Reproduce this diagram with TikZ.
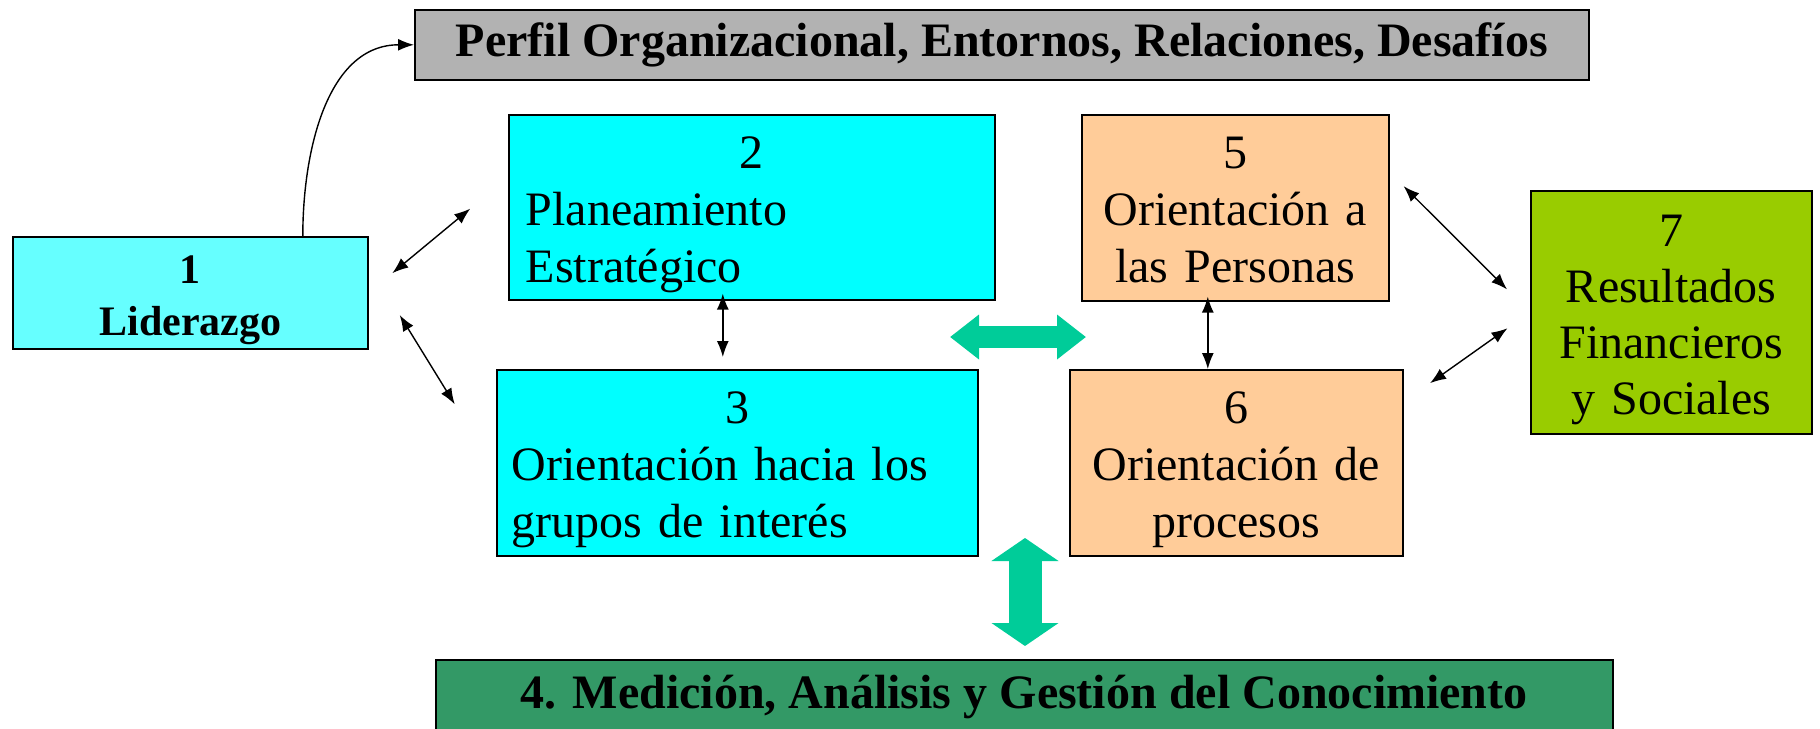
\documentclass[tikz,border=0pt]{standalone}
\usepackage{xcolor}
\usepackage{fontspec}
\setmainfont{Liberation Serif}
\usepackage{tikz}
\usetikzlibrary{arrows.meta}
\usetikzlibrary{positioning}
\definecolor{perfilgray}{HTML}{B2B2B2}
\definecolor{lidercyan}{HTML}{66FFFF}
\definecolor{plancyan}{HTML}{00FFFF}
\definecolor{personasorange}{HTML}{FFCC99}
\definecolor{resultgreen}{HTML}{99CC00}
\definecolor{medgreen}{HTML}{339966}
\definecolor{flowgreen}{HTML}{00CC99}

\begin{document}
\begin{tikzpicture}[
    x=0.5pt, y=-0.5pt,
    box/.style={draw, line width=0.8pt, anchor=north west, inner xsep=0pt, inner ysep=0pt,
      font=\fontsize{24}{28.5}\selectfont},
    titlebox/.style={box, font=\fontsize{24}{28}\selectfont\bfseries},
    link/.style={{Latex[length=8pt,width=6pt]}-{Latex[length=8pt,width=6pt]}, line width=0.7pt},
    bigflow/.style={draw=flowgreen, line width=11pt,
      {Triangle[length=14.5pt,width=21.5pt]}-{Triangle[length=14.5pt,width=21.5pt]}},
    bigdown/.style={draw=flowgreen, line width=16.5pt,
      {Triangle[length=11.5pt,width=33pt]}-{Triangle[length=11.5pt,width=33pt]}}
]
\useasboundingbox (0,0) rectangle (1820,728);

\node[titlebox, fill=perfilgray, minimum width=587pt, minimum height=35pt] (PO) at (414,9)
  {Perfil Organizacional, Entornos, Relaciones, Desafíos};
\node[box, fill=lidercyan, minimum width=177.5pt, minimum height=56pt, text width=177.5pt,
  align=center, text height=23.5pt, text depth=32.5pt,
  font=\fontsize{21}{26}\selectfont\bfseries] (L1) at (12,236) {1\\Liderazgo};
\node[box, fill=plancyan, minimum width=243pt, minimum height=92.5pt, text width=226pt,
  inner xsep=8.5pt, align=left, text height=27pt, text depth=65.5pt] (P2) at (508,114)
  {\makebox[226pt]{2}\\Planeamiento\\Estratégico};
\node[box, fill=plancyan, minimum width=240.5pt, minimum height=93pt, text width=225.5pt,
  inner xsep=7.5pt, align=left, text height=27pt, text depth=66pt] (G3) at (496,369)
  {\makebox[225.5pt]{3}\\Orientación hacia los\\grupos de interés};
\node[box, fill=personasorange, minimum width=153.5pt, minimum height=93pt, text width=153.5pt,
  align=center, text height=27pt, text depth=66pt] (O5) at (1081,114)
  {5\\Orientación a\\las Personas};
\node[box, fill=personasorange, minimum width=166.5pt, minimum height=93pt, text width=166.5pt,
  align=center, text height=27pt, text depth=66pt] (O6) at (1069,369)
  {6\\Orientación de\\procesos};
\node[box, fill=resultgreen, minimum width=140.5pt, minimum height=121.5pt, text width=140.5pt,
  align=center, text height=28pt, text depth=93.5pt, font=\fontsize{24}{28}\selectfont]
  (R7) at (1530,190) {7\\Resultados\\Financieros\\y Sociales};
\node[titlebox, fill=medgreen, minimum width=588.5pt, minimum height=37pt] (M4) at (435,659)
  {4. Medición, Análisis y Gestión del Conocimiento};

% thin links
\draw[-{Latex[length=8pt,width=6pt]}, line width=0.7pt] ([xshift=56.25pt]L1.north)
  to[out=90,in=180] (PO.west);
\draw[link, shorten <=15.4pt, shorten >=24.5pt] (L1.east) -- (P2.173.5);
\draw[link, shorten <=29.7pt, shorten >=39.3pt] (L1.9.6) -- (G3.182.6);
\draw[link, shorten <=-3.5pt, shorten >=6pt] ([xshift=-14.5pt]P2.south) -- ([xshift=-7.25pt]G3.north);
\draw[link, shorten <=-2.5pt] ([xshift=-13.75pt]O5.south) -- ([xshift=-14.25pt]O6.north);
\draw[link, shorten <=9.9pt, shorten >=16.2pt] (O5.13.9) -- (R7.west);
\draw[link, shorten <=16.2pt, shorten >=13.8pt] (O6.20.7) -- (R7.west);

% big green arrows
\coordinate (HL) at (950,337);
\coordinate (HR) at (1086,337);
\coordinate (VT) at (1025,538);
\coordinate (VB) at (1025,646);
\draw[bigflow] (HL) -- (HR);
\draw[bigdown] (VT) -- (VB);
\end{tikzpicture}
\end{document}
